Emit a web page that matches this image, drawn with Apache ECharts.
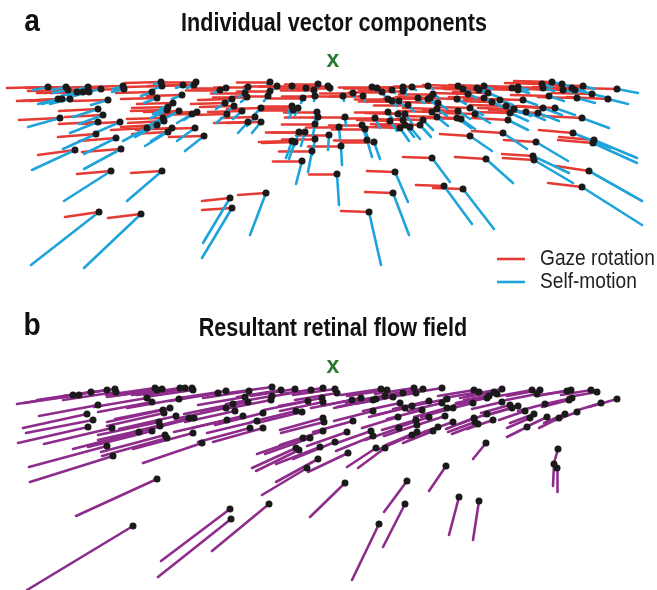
<!DOCTYPE html>
<html><head><meta charset="utf-8">
<script src="https://cdn.jsdelivr.net/npm/echarts@6/dist/echarts.min.js"></script>
<style>html,body{margin:0;padding:0;background:#fff}#c{width:657px;height:590px}</style>
</head><body><div id="c"></div>
<script>
// Panel a: sample points, gaze-rotation vectors (red) and self-motion vectors (blue)
const ptsA = [[48,87],[66,87],[68,90],[77,92],[83,92],[88,87],[89,92],[101,89],[123,86],[124,89],
[58,99],[62,99],[70,99],[108,100],[98,109],[103,115],[60,118],[98,122],[120,122],[96,134],
[116,138],[75,150],[121,149],[161,82],[162,86],[183,85],[194,85],[196,82],[152,92],[157,98],
[182,95],[220,90],[226,88],[225,103],[173,103],[168,107],[167,110],[179,111],[192,114],[197,112],
[227,114],[163,118],[164,121],[157,125],[147,128],[172,128],[168,132],[195,128],[204,136],[111,171],
[162,171],[99,212],[141,214],[230,198],[232,208],[266,193],[248,87],[245,93],[247,97],[232,99],
[234,106],[270,82],[270,91],[268,96],[277,86],[292,86],[306,88],[314,90],[318,84],[328,86],
[330,88],[315,96],[303,98],[261,108],[292,106],[298,108],[293,110],[242,111],[255,117],[248,122],
[261,122],[317,112],[318,117],[343,96],[353,93],[363,96],[345,117],[315,124],[339,127],[362,125],
[365,129],[299,132],[305,132],[329,135],[315,139],[292,141],[295,142],[367,140],[374,142],[341,146],
[312,151],[302,161],[372,87],[377,88],[382,92],[392,90],[403,87],[403,91],[412,87],[428,86],
[433,94],[430,98],[388,99],[392,101],[399,101],[408,105],[418,98],[428,99],[388,112],[398,114],
[405,114],[432,112],[437,117],[375,118],[390,121],[403,120],[405,125],[400,128],[410,127],[423,120],
[420,125],[432,158],[458,86],[463,89],[477,88],[479,90],[484,86],[512,88],[518,87],[518,90],
[542,84],[543,88],[552,82],[562,84],[563,90],[572,88],[575,90],[583,86],[592,94],[617,89],
[468,94],[457,99],[484,98],[488,93],[492,102],[500,100],[523,100],[549,96],[577,98],[608,99],
[438,103],[437,109],[470,108],[458,111],[475,114],[506,106],[514,109],[510,113],[526,112],[538,113],
[543,108],[555,108],[457,118],[461,119],[508,120],[582,118],[470,136],[503,133],[536,142],[573,133],
[594,140],[593,143],[486,159],[533,156],[534,160],[337,174],[395,172],[393,193],[369,212],[444,186],
[463,189],[589,171],[582,187]];
const gazeA = [[-41,1],[-40,1],[-40,1],[-40,1],[-39,1],[-39,1],[-39,1],[-38,1],[-37,1],[-37,1],
[-41,2],[-40,2],[-40,2],[-38,1],[-39,2],[-38,2],[-41,2],[-39,2],[-38,2],[-38,3],
[-37,3],[-37,5],[-39,3],[-36,1],[-36,1],[-35,1],[-35,1],[-35,0],[-36,1],[-36,1],
[-35,1],[-34,0],[-34,0],[-34,1],[-36,1],[-36,1],[-36,1],[-35,1],[-35,1],[-35,1],
[-34,1],[-36,1],[-36,2],[-36,2],[-36,2],[-36,2],[-36,2],[-35,1],[-35,1],[-34,3],
[-31,2],[-34,5],[-33,4],[-28,3],[-30,2],[-28,2],[-34,0],[-34,0],[-34,0],[-34,1],
[-34,1],[-33,0],[-33,0],[-33,0],[-33,0],[-33,0],[-33,0],[-33,0],[-33,0],[-33,0],
[-33,0],[-33,0],[-33,0],[-34,1],[-33,0],[-33,0],[-33,0],[-34,1],[-34,1],[-34,1],
[-34,1],[-33,0],[-33,0],[-33,0],[-33,0],[-33,0],[-33,0],[-33,0],[-33,0],[-33,0],
[-33,0],[-33,0],[-33,0],[-33,0],[-33,0],[-33,1],[-33,1],[-33,0],[-33,0],[-33,0],
[-33,0],[-29,0],[-33,0],[-33,0],[-33,0],[-33,0],[-33,0],[-33,0],[-34,0],[-34,0],
[-34,0],[-34,-1],[-33,0],[-33,0],[-33,0],[-34,0],[-34,0],[-34,-1],[-33,0],[-33,-1],
[-34,-1],[-34,-1],[-34,-1],[-33,0],[-33,-1],[-34,-1],[-34,-1],[-33,-1],[-34,-1],[-34,-1],
[-34,-1],[-29,-1],[-35,-1],[-35,-1],[-35,-1],[-35,-1],[-35,-1],[-36,-1],[-36,-1],[-36,-1],
[-37,-1],[-37,-1],[-38,-1],[-38,-1],[-38,-1],[-39,-1],[-39,-1],[-39,-1],[-40,-1],[-41,-1],
[-35,-1],[-35,-1],[-35,-1],[-35,-1],[-36,-1],[-36,-1],[-37,-1],[-38,-1],[-39,-1],[-41,-2],
[-34,-1],[-34,-1],[-35,-1],[-35,-1],[-35,-1],[-36,-1],[-36,-1],[-36,-1],[-37,-2],[-37,-2],
[-37,-2],[-38,-2],[-35,-1],[-35,-1],[-36,-2],[-39,-2],[-30,-2],[-31,-2],[-32,-2],[-34,-3],
[-35,-3],[-35,-3],[-31,-2],[-31,-2],[-31,-2],[-28,0],[-28,-1],[-28,-1],[-28,-1],[-28,-1],
[-30,-1],[-33,-5],[-34,-4]];
const selfA = [[-15,3],[-14,3],[-15,3],[-16,4],[-15,4],[-13,3],[-15,4],[-13,3],[-10,3],[-12,3],
[-20,5],[-20,5],[-20,5],[-17,5],[-25,8],[-24,9],[-32,9],[-28,11],[-25,11],[-33,15],
[-32,16],[-43,20],[-37,20],[-7,2],[-8,3],[-7,3],[-7,3],[-6,2],[-11,4],[-13,5],
[-10,4],[-6,3],[-6,3],[-9,6],[-13,6],[-15,7],[-16,8],[-15,8],[-15,9],[-13,8],
[-11,9],[-19,10],[-20,11],[-22,12],[-24,13],[-21,13],[-23,14],[-18,13],[-19,15],[-47,30],
[-35,30],[-68,53],[-57,54],[-27,45],[-30,50],[-16,42],[-4,3],[-6,4],[-6,5],[-8,5],
[-9,7],[-3,2],[-4,4],[-4,5],[-3,3],[-2,3],[-1,3],[-1,3],[-1,3],[0,3],
[0,3],[-1,5],[-2,5],[-7,7],[-4,7],[-3,7],[-4,8],[-9,8],[-8,9],[-10,11],
[-9,11],[-2,8],[-2,9],[1,5],[1,4],[2,5],[1,9],[-2,11],[1,12],[4,12],
[4,13],[-5,14],[-4,14],[-1,15],[-3,16],[-6,17],[-6,17],[5,17],[6,17],[1,19],
[-4,21],[-6,23],[2,3],[2,3],[3,4],[3,3],[4,3],[4,4],[4,3],[5,3],
[6,4],[7,5],[4,5],[5,5],[5,5],[6,6],[6,5],[7,5],[5,8],[7,9],
[7,9],[10,8],[11,9],[5,10],[7,10],[8,10],[9,12],[9,13],[10,12],[10,10],
[11,12],[18,24],[6,3],[7,3],[8,3],[8,3],[8,3],[10,3],[10,3],[11,3],
[10,3],[11,3],[9,2],[10,3],[13,3],[13,3],[14,3],[12,3],[17,4],[21,4],
[9,4],[9,5],[11,5],[10,4],[13,6],[13,5],[14,5],[15,5],[18,5],[20,5],
[9,6],[10,7],[13,7],[12,8],[15,9],[15,7],[17,7],[18,8],[19,8],[21,8],
[19,7],[20,7],[14,10],[14,10],[20,10],[27,10],[22,15],[24,16],[32,19],[38,15],
[43,18],[44,20],[27,24],[36,17],[39,23],[2,31],[13,30],[16,42],[12,53],[28,38],
[31,40],[53,30],[60,38]];
// Panel b: sample points and resultant retinal flow vectors (purple)
const ptsB = [[73,395],[79,395],[91,392],[107,390],[115,389],[116,392],[155,388],[157,390],[162,389],[180,388],
[185,388],[192,388],[193,390],[218,393],[226,391],[249,391],[272,387],[281,390],[295,389],[311,390],
[323,388],[147,398],[152,402],[98,405],[179,399],[245,397],[248,402],[272,396],[271,400],[308,401],
[322,398],[323,402],[163,410],[170,408],[164,413],[226,408],[233,404],[235,411],[296,411],[302,412],
[87,414],[93,420],[88,427],[159,422],[160,426],[176,416],[189,418],[194,418],[227,420],[243,416],
[257,421],[263,413],[112,428],[139,432],[152,431],[165,435],[167,438],[193,433],[202,443],[250,428],
[263,428],[323,418],[324,422],[303,438],[310,438],[323,431],[107,446],[296,448],[299,450],[320,447],
[113,456],[157,479],[133,526],[230,509],[231,519],[269,504],[318,459],[307,468],[335,389],[337,393],
[352,400],[361,398],[373,400],[376,399],[381,389],[387,390],[385,396],[393,397],[403,393],[414,388],
[416,393],[423,389],[442,388],[400,403],[405,408],[412,406],[422,410],[429,401],[442,403],[447,399],
[447,408],[453,408],[373,411],[353,421],[398,417],[416,420],[417,425],[429,417],[445,416],[453,422],
[474,390],[479,392],[487,398],[489,396],[494,392],[497,394],[502,389],[473,403],[502,402],[510,405],
[512,408],[518,406],[487,414],[493,420],[474,418],[475,422],[478,424],[532,390],[540,390],[537,394],
[545,404],[525,411],[534,414],[530,418],[547,417],[527,427],[559,418],[565,414],[577,412],[567,391],
[571,390],[569,400],[572,398],[591,390],[597,392],[601,403],[617,399],[335,442],[348,453],[376,448],
[385,448],[373,436],[371,431],[347,432],[399,428],[412,435],[417,432],[433,431],[438,427],[486,443],
[558,449],[554,464],[557,468],[446,466],[345,483],[407,481],[405,504],[379,524],[459,497],[479,501]];
const flowB = [[-56,9],[-55,8],[-54,8],[-52,8],[-52,7],[-53,8],[-49,7],[-50,7],[-50,7],[-48,7],
[-48,7],[-48,7],[-48,7],[-48,8],[-47,7],[-46,7],[-44,6],[-44,7],[-44,7],[-43,7],
[-42,6],[-53,9],[-54,10],[-59,11],[-52,9],[-47,8],[-48,9],[-46,8],[-46,9],[-44,9],
[-43,8],[-43,9],[-56,12],[-55,11],[-57,13],[-51,11],[-49,10],[-50,11],[-45,11],[-45,11],
[-64,14],[-67,13],[-70,16],[-61,13],[-62,14],[-57,13],[-56,14],[-56,14],[-53,12],[-51,12],
[-50,12],[-48,12],[-68,16],[-66,17],[-64,16],[-64,17],[-65,18],[-60,16],[-59,20],[-52,14],
[-50,14],[-43,12],[-43,11],[-46,16],[-45,16],[-43,14],[-78,21],[-44,20],[-43,21],[-44,17],
[-83,26],[-81,37],[-106,64],[-69,52],[-73,58],[-57,47],[-42,23],[-45,27],[-42,6],[-42,7],
[-41,8],[-40,8],[-39,8],[-39,8],[-40,6],[-40,6],[-39,7],[-38,7],[-38,6],[-39,6],
[-38,6],[-38,6],[-37,6],[-37,8],[-36,9],[-36,9],[-35,9],[-36,8],[-34,8],[-35,7],
[-33,9],[-32,9],[-39,10],[-40,11],[-36,11],[-34,10],[-33,11],[-33,11],[-31,10],[-29,10],
[-36,6],[-35,6],[-33,7],[-33,7],[-34,6],[-33,6],[-35,6],[-32,8],[-30,7],[-29,8],
[-28,8],[-28,8],[-28,10],[-26,9],[-28,11],[-27,10],[-26,10],[-33,6],[-33,6],[-31,6],
[-27,7],[-26,9],[-24,9],[-23,10],[-21,10],[-20,10],[-20,10],[-21,9],[-21,8],[-31,5],
[-31,5],[-27,7],[-27,6],[-30,5],[-29,5],[-23,7],[-28,8],[-42,17],[-40,19],[-29,19],
[-27,20],[-37,15],[-37,13],[-40,14],[-34,12],[-32,14],[-31,13],[-30,12],[-30,11],[-13,16],
[-4,14],[-1,22],[0,24],[-17,25],[-35,34],[-23,31],[-22,43],[-27,56],[-10,38],[-6,39]];
const fixation = [[333, 61], [333, 367]];
const legendNames = ['Gaze rotation', 'Self-motion'];

function segs(pts, vecs) {
  return pts.map((p, i) => ({ coords: [p, [p[0] + vecs[i][0], p[1] + vecs[i][1]]] }));
}

const RED = '#e63b34', BLUE = '#1ea4da', PURPLE = '#8e2c8c', GREEN = '#2a7a30';
const chart = echarts.init(document.getElementById('c'), null, { renderer: 'canvas' });
const FONT = '"Liberation Sans", Arial, sans-serif';

chart.setOption({
  animation: false,
  backgroundColor: '#fff',
  grid: { left: 0, top: 0, width: 657, height: 590 },
  xAxis: { type: 'value', min: 0, max: 657, show: false },
  yAxis: { type: 'value', min: 0, max: 590, inverse: true, show: false },
  series: [
    { type: 'lines', name: legendNames[0], coordinateSystem: 'cartesian2d', z: 1,
      data: segs(ptsA, gazeA), lineStyle: { color: RED, width: 2.6, opacity: 1, cap: 'round' } },
    { type: 'lines', name: legendNames[1], coordinateSystem: 'cartesian2d', z: 2,
      data: segs(ptsA, selfA), lineStyle: { color: BLUE, width: 2.6, opacity: 1, cap: 'round' } },
    { type: 'lines', coordinateSystem: 'cartesian2d', z: 2,
      data: segs(ptsB, flowB), lineStyle: { color: PURPLE, width: 2.6, opacity: 1, cap: 'round' } },
    { type: 'scatter', z: 5, data: ptsA.concat(ptsB), symbolSize: 7,
      itemStyle: { color: '#1a1a1a', opacity: 1 }, silent: true },
    { type: 'scatter', z: 6, data: fixation, symbol: 'circle', symbolSize: 0.5,
      itemStyle: { color: GREEN, opacity: 1 }, silent: true,
      label: { show: true, position: 'inside', formatter: 'x', color: GREEN, opacity: 1,
        textBorderWidth: 0, fontWeight: 'bold', fontSize: 23, fontFamily: FONT } }
  ],
  graphic: [
    { type: 'text', x: 32, y: 22, scaleX: 0.88, style: { text: 'a', font: 'bold 32px ' + FONT, fill: '#111', textAlign: 'center', textVerticalAlign: 'middle' } },
    { type: 'text', x: 334, y: 24, scaleX: 0.83, style: { text: 'Individual vector components', font: 'bold 26px ' + FONT, fill: '#111', textAlign: 'center', textVerticalAlign: 'middle' } },
    { type: 'text', x: 32, y: 326, scaleX: 0.88, style: { text: 'b', font: 'bold 32px ' + FONT, fill: '#111', textAlign: 'center', textVerticalAlign: 'middle' } },
    { type: 'text', x: 333, y: 329, scaleX: 0.83, style: { text: 'Resultant retinal flow field', font: 'bold 26px ' + FONT, fill: '#111', textAlign: 'center', textVerticalAlign: 'middle' } },
    { type: 'line', shape: { x1: 497, y1: 259, x2: 525, y2: 259 }, style: { stroke: RED, lineWidth: 2.6 } },
    { type: 'line', shape: { x1: 497, y1: 282, x2: 525, y2: 282 }, style: { stroke: BLUE, lineWidth: 2.6 } },
    { type: 'text', x: 540, y: 259, scaleX: 0.87, style: { text: legendNames[0], font: '22px ' + FONT, fill: '#222', textAlign: 'left', textVerticalAlign: 'middle' } },
    { type: 'text', x: 540, y: 282, scaleX: 0.87, style: { text: legendNames[1], font: '22px ' + FONT, fill: '#222', textAlign: 'left', textVerticalAlign: 'middle' } }
  ]
});
</script></body></html>
